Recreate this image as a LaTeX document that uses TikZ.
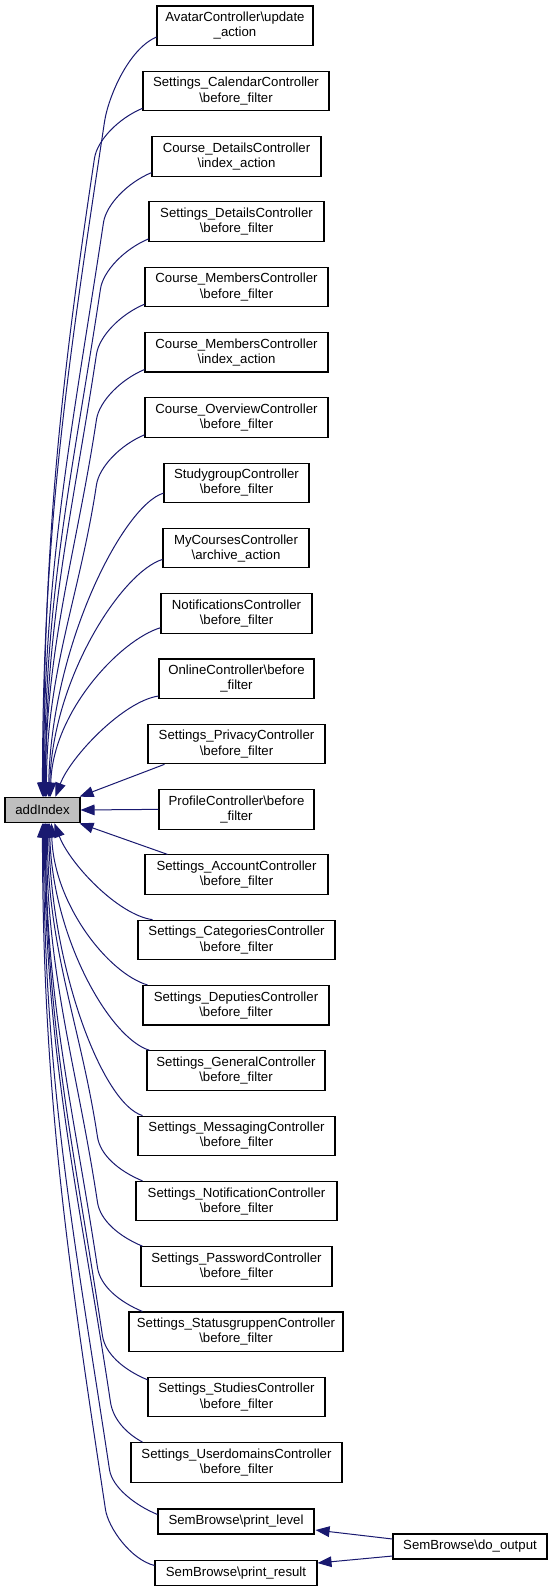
\documentclass[tikz,border=0pt]{standalone}
\usepackage{fontspec}
\setmainfont{Liberation Sans}
\usetikzlibrary{calc,arrows.meta}
\definecolor{edgeblue}{RGB}{25,25,112}
\definecolor{rootgrey}{RGB}{191,191,191}
\newcommand\twoseg[7]{%
  \coordinate (ts) at (#1);
  \coordinate (te) at (#2);
  \coordinate (tk) at ($(ts)+(#3)$);
  \draw[edge] (ts) .. controls ($(ts)+(#4)$) and ($(tk)+(#5)$) .. (tk)
    .. controls ($(tk)+(#6)$) and ($(te)+(#7)$) .. (te);}
\newcommand\oneseg[4]{%
  \coordinate (os) at (#1);
  \coordinate (oe) at (#2);
  \draw[edge] (os) .. controls ($(os)+(#3)$) and ($(oe)+(#4)$) .. (oe);}
\begin{document}
\begin{tikzpicture}[x=0.75pt,y=-0.75pt,
  box/.style={draw=black, line width=0.8pt, fill=white, inner sep=0pt, align=center,
    font=\fontsize{9.9pt}{11.4pt}\selectfont, minimum height=39.5*0.75pt},
  onebox/.style={box, minimum height=25*0.75pt},
  bw/.style={minimum width=#1*0.75pt},
  edge/.style={draw=edgeblue, line width=0.75pt, -{Triangle[length=10.5pt,width=8pt]}}]
\fill[white] (0,0) rectangle (553,1591);
\useasboundingbox (0,0) rectangle (553,1591);

\node[onebox, bw=75, fill=rootgrey, minimum height=25.5*0.75pt] (ai) at (42.5,810) {addIndex};

\node[box,bw=156] (n1) at (235,25.75) {AvatarController\textbackslash update\\\_action};
\node[box,bw=186] (n2) at (236,91.05) {Settings\_CalendarController\\\textbackslash before\_filter};
\node[box,bw=169] (n3) at (236.5,156.35) {Course\_DetailsController\\\textbackslash index\_action};
\node[box,bw=175] (n4) at (236.5,221.65) {Settings\_DetailsController\\\textbackslash before\_filter};
\node[box,bw=183] (n5) at (236.5,286.95) {Course\_MembersController\\\textbackslash before\_filter};
\node[box,bw=183] (n6) at (236.5,352.25) {Course\_MembersController\\\textbackslash index\_action};
\node[box,bw=183] (n7) at (236.5,417.55) {Course\_OverviewController\\\textbackslash before\_filter};
\node[box,bw=145] (n8) at (236.5,482.85) {StudygroupController\\\textbackslash before\_filter};
\node[box,bw=146] (n9) at (236,548.15) {MyCoursesController\\\textbackslash archive\_action};
\node[box,bw=151] (n10) at (236.5,613.45) {NotificationsController\\\textbackslash before\_filter};
\node[box,bw=155] (n11) at (236.5,678.75) {OnlineController\textbackslash before\\\_filter};
\node[box,bw=177] (n12) at (236.5,744.05) {Settings\_PrivacyController\\\textbackslash before\_filter};
\node[box,bw=155] (n13) at (236.5,809.35) {ProfileController\textbackslash before\\\_filter};
\node[box,bw=183] (n14) at (236.5,874.65) {Settings\_AccountController\\\textbackslash before\_filter};
\node[box,bw=197] (n15) at (236.5,939.95) {Settings\_CategoriesController\\\textbackslash before\_filter};
\node[box,bw=186] (n16) at (236,1005.25) {Settings\_DeputiesController\\\textbackslash before\_filter};
\node[box,bw=178] (n17) at (236,1070.55) {Settings\_GeneralController\\\textbackslash before\_filter};
\node[box,bw=197] (n18) at (236.5,1135.85) {Settings\_MessagingController\\\textbackslash before\_filter};
\node[box,bw=201] (n19) at (236.5,1201.15) {Settings\_NotificationController\\\textbackslash before\_filter};
\node[box,bw=191] (n20) at (236.5,1266.45) {Settings\_PasswordController\\\textbackslash before\_filter};
\node[box,bw=214] (n21) at (236,1331.75) {Settings\_StatusgruppenController\\\textbackslash before\_filter};
\node[box,bw=177] (n22) at (236.5,1397.05) {Settings\_StudiesController\\\textbackslash before\_filter};
\node[box,bw=211] (n23) at (236.5,1462.35) {Settings\_UserdomainsController\\\textbackslash before\_filter};
\node[onebox,bw=156] (n24) at (236,1521.5) {SemBrowse\textbackslash print\_level};
\node[onebox,bw=162] (n25) at (236,1573) {SemBrowse\textbackslash print\_result};
\node[onebox,bw=154] (n26) at (470,1546.5) {SemBrowse\textbackslash do\_output};

% upper long edges
\twoseg{$(n1.south west)+(0,-9)$}{$(ai.north west)+(38,0)$}{-52,85}{-28,12}{3.75,-25}{-35.5,236.5}{0,-270}
\twoseg{$(n2.south west)+(0,-3)$}{$(ai.north west)+(39,0)$}{-48,50}{-24,10}{2.7,-18}{-33.6,224}{0,-256}
\twoseg{$(n3.south west)+(0,-4)$}{$(ai.north west)+(39,0)$}{-48,50}{-24,10}{2.7,-18}{-30.2,201}{0,-230}
\twoseg{$(n4.south west)+(0,-3)$}{$(ai.north west)+(40,0)$}{-48,50}{-24,10}{2.7,-18}{-26.7,178}{0,-204}
\twoseg{$(n5.south west)+(0,-3)$}{$(ai.north west)+(41,0)$}{-48,50}{-24,10}{2.7,-18}{-23.3,155}{0,-177}
\twoseg{$(n6.south west)+(0,-3)$}{$(ai.north west)+(41,0)$}{-48,50}{-24,10}{2.7,-18}{-19.8,132}{0,-151}
\twoseg{$(n7.south west)+(0,-3)$}{$(ai.north west)+(42,0)$}{-48,50}{-24,10}{2.7,-18}{-16.5,110}{0,-125}
% upper medium edges
\oneseg{$(n8.south west)+(0,-10)$}{$(ai.north west)+(44,0)$}{-40,12}{3,-152}
\oneseg{$(n9.south west)+(0,-9)$}{$(ai.north west)+(45,0)$}{-40,12}{3,-119}
\oneseg{$(n10.south west)+(0,-6)$}{$(ai.north west)+(46,0)$}{-40,12}{2,-85}
\oneseg{$(n11.south west)+(0,-3)$}{$(ai.north west)+(51,0)$}{-35,5}{15,-40}
% straight edges
\draw[edge] ($(n12.south west)+(17,0)$) -- ($(ai.north east)+(-1,0)$);
\draw[edge] (n13.west) -- (ai.east);
\draw[edge] ($(n14.north west)+(23,0)$) -- ($(ai.south east)+(-1,0)$);
% lower medium edges
\oneseg{$(n15.north west)+(15,0)$}{$(ai.south west)+(50,0)$}{-35,-5}{15,40}
\oneseg{$(n16.north west)+(5,0)$}{$(ai.south west)+(47,0)$}{-40,-12}{2,80}
\oneseg{$(n17.north west)+(3,0)$}{$(ai.south west)+(45,0)$}{-40,-12}{3,114}
\oneseg{$(n18.north west)+(5,0)$}{$(ai.south west)+(44,0)$}{-40,-12}{3,146}
% lower long edges
\twoseg{$(n19.north west)+(7,0)$}{$(ai.south west)+(43,0)$}{-45,-44}{-24,-10}{2.7,18}{-16.5,-110}{0,126}
\twoseg{$(n20.north west)+(2,0)$}{$(ai.south west)+(42,0)$}{-45,-44}{-24,-10}{2.7,18}{-20,-133}{0,152}
\twoseg{$(n21.north west)+(14,0)$}{$(ai.south west)+(41,0)$}{-45,-44}{-24,-10}{2.7,18}{-23.4,-156}{0,178}
\twoseg{$(n22.north west)+(0,3)$}{$(ai.south west)+(41,0)$}{-45,-44}{-24,-10}{2.7,18}{-27,-180}{0,205}
\twoseg{$(n23.north west)+(12,0)$}{$(ai.south west)+(40,0)$}{-32,-40}{-15,-8}{2.7,18}{-30.4,-203}{0,232}
\twoseg{$(n24.north west)+(0,6)$}{$(ai.south west)+(39,0)$}{-48,-45}{-22,-9}{2.7,18}{-34,-226}{0,259}
\twoseg{$(n25.north west)+(0,5.5)$}{$(ai.south west)+(38,0)$}{-49,-56}{-24,-6}{2.7,18}{-36,-240}{0,275}
% do_output edges
\draw[edge] ($(n26.west)+(0,-7.5)$) -- ($(n24.east)+(1,8.5)$);
\draw[edge] ($(n26.west)+(0,9.5)$) -- ($(n25.east)+(0,-10)$);
\end{tikzpicture}
\end{document}
